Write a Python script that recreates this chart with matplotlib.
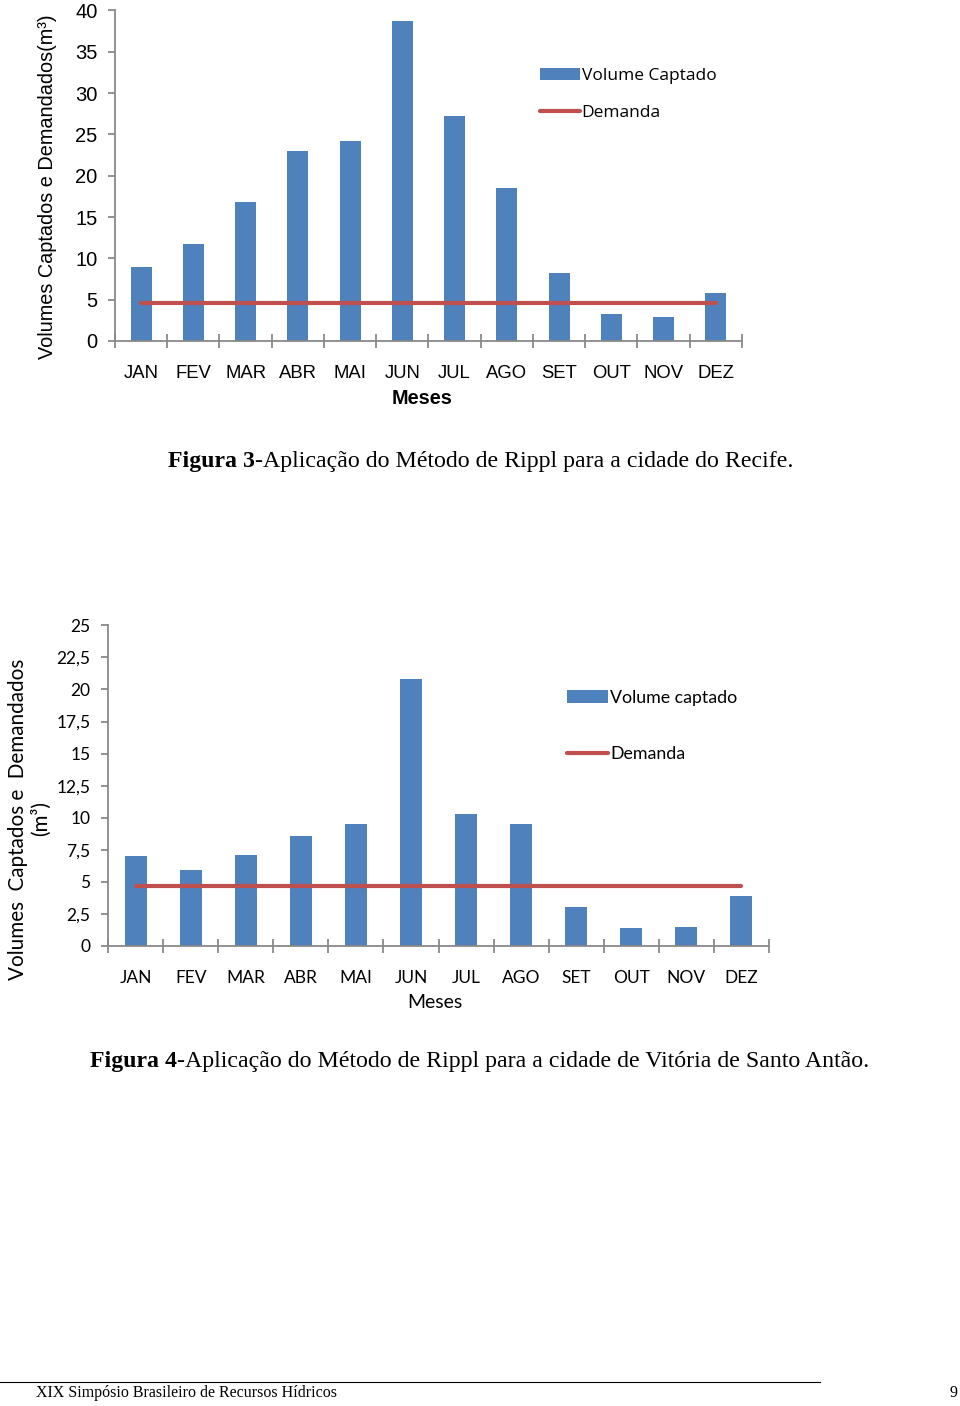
import numpy as np
import matplotlib
matplotlib.use('Agg')
import matplotlib.pyplot as plt
from matplotlib.lines import Line2D
from matplotlib.patches import Patch

W, H = 960, 1406
DPI = 100

meses = ['JAN', 'FEV', 'MAR', 'ABR', 'MAI', 'JUN', 'JUL', 'AGO', 'SET', 'OUT', 'NOV', 'DEZ']

# Figura 3 - Recife
recife_volume = [8.9, 11.7, 16.8, 23.0, 24.2, 38.7, 27.2, 18.5, 8.2, 3.3, 2.9, 5.8]
recife_demanda = [4.6] * 12
recife_yticks = [0, 5, 10, 15, 20, 25, 30, 35, 40]

# Figura 4 - Vitoria de Santo Antao
vitoria_volume = [7.0, 5.9, 7.1, 8.6, 9.5, 20.8, 10.3, 9.5, 3.05, 1.4, 1.5, 3.9]
vitoria_demanda = [4.7] * 12
vitoria_yticks = [0, 2.5, 5, 7.5, 10, 12.5, 15, 17.5, 20, 22.5, 25]
vitoria_yticklabels = ['0', '2,5', '5', '7,5', '10', '12,5', '15', '17,5', '20', '22,5', '25']

BLUE = '#4F81BD'
RED = '#C0504D'
GRAY = '#898989'


def rect(l, t, r, b):
    return [l / W, 1 - b / H, (r - l) / W, (b - t) / H]


def fx(x):
    return x / W


def fy(y):
    return 1 - y / H


def style_axes(ax, family, xsize, ysize, ylab_pad, xlab_pad):
    for s in ['top', 'right']:
        ax.spines[s].set_visible(False)
    for s in ['left', 'bottom']:
        ax.spines[s].set_color(GRAY)
        ax.spines[s].set_linewidth(1.3)
    ax.set_xlim(-0.5, 11.5)
    ax.set_xticks(range(12))
    ax.set_xticklabels(meses, family=family, fontsize=xsize)
    ax.set_xticks(np.arange(-0.5, 12, 1), minor=True)
    ax.tick_params(axis='x', which='major', length=0, pad=xlab_pad)
    ax.tick_params(axis='x', which='minor', direction='inout', length=10,
                   width=1.3, color=GRAY)
    ax.tick_params(axis='y', which='major', direction='out', length=5,
                   width=1.3, color=GRAY, pad=ylab_pad)
    for lab in ax.get_yticklabels():
        lab.set_family(family)
        lab.set_fontsize(ysize)


fig = plt.figure(figsize=(W / DPI, H / DPI), dpi=DPI)
fig.patch.set_facecolor('white')

# ---------- Figura 3 ----------
ax1 = fig.add_axes(rect(115, 10.5, 742, 341))
x = np.arange(12)
ax1.bar(x, recife_volume, width=0.4, color=BLUE, zorder=2)
ax1.plot(x, recife_demanda, color=RED, lw=3, solid_capstyle='round', zorder=3)
ax1.set_ylim(0, 40)
ax1.set_yticks(recife_yticks)
ax1.set_yticklabels([str(v) for v in recife_yticks])
style_axes(ax1, 'Liberation Sans', 13.3, 14.5, 7.5, 17)

fig.text(fx(48), fy(187), 'Volumes Captados e Demandados(m³)', rotation=90,
         ha='center', va='center', family='Liberation Sans', fontsize=14.3)
fig.text(fx(422), fy(399), 'Meses', ha='center', va='center',
         family='Liberation Sans', fontsize=14.3, fontweight='bold')

h1 = [Patch(facecolor=BLUE), Line2D([0], [0], color=RED, lw=3, solid_capstyle='round')]
ax1.legend(h1, ['Volume Captado', 'Demanda'], frameon=False,
           loc='upper left', bbox_to_anchor=(fx(531), fy(59)),
           bbox_transform=fig.transFigure, prop={'family': 'Open Sans', 'size': 12.5},
           handlelength=2.3, handletextpad=0.12, labelspacing=1.2, borderpad=0)

# ---------- Figura 4 ----------
ax2 = fig.add_axes(rect(108, 625.3, 769, 946))
ax2.bar(x, vitoria_volume, width=0.4, color=BLUE, zorder=2)
ax2.plot(x, vitoria_demanda, color=RED, lw=3, solid_capstyle='round', zorder=3)
ax2.set_ylim(0, 25)
ax2.set_yticks(vitoria_yticks)
ax2.set_yticklabels(vitoria_yticklabels)
style_axes(ax2, 'Lato', 12.5, 12.5, 7.5, 17)

fig.text(fx(18), fy(819), 'Volumes  Captados e  Demandados', rotation=90,
         ha='center', va='center', family='Lato', fontsize=14.9)
fig.text(fx(41), fy(819), '(m³)', rotation=90,
         ha='center', va='center', family='Lato', fontsize=14.9)
fig.text(fx(435), fy(1002), 'Meses', ha='center', va='center',
         family='Lato', fontsize=14)

h2 = [Patch(facecolor=BLUE), Line2D([0], [0], color=RED, lw=3, solid_capstyle='round')]
ax2.legend(h2, ['Volume captado', 'Demanda'], frameon=False,
           loc='upper left', bbox_to_anchor=(fx(558), fy(681)),
           bbox_transform=fig.transFigure, prop={'family': 'Lato', 'size': 12.8},
           handlelength=2.3, handletextpad=0.12, labelspacing=2.25, borderpad=0)

# ---------- legendas das figuras ----------
fig.canvas.draw()
renderer = fig.canvas.get_renderer()


def caption(xleft, ycen, bold, rest):
    t = fig.text(fx(xleft), fy(ycen), bold, ha='left', va='center',
                 family='Liberation Serif', fontsize=17.2, fontweight='bold')
    bb = t.get_window_extent(renderer)
    fig.text(bb.x1 / W, fy(ycen), rest, ha='left', va='center',
             family='Liberation Serif', fontsize=17.2)


caption(168, 461, 'Figura 3', '-Aplicação do Método de Rippl para a cidade do Recife.')
caption(90, 1062, 'Figura 4', '-Aplicação do Método de Rippl para a cidade de Vitória de Santo Antão.')

# rodape
fig.add_artist(Line2D([0, fx(820)], [fy(1382), fy(1382)], color='black', lw=0.8))
fig.text(fx(36), fy(1393), 'XIX Simpósio Brasileiro de Recursos Hídricos',
         ha='left', va='center', family='Liberation Serif', fontsize=11.5)
fig.text(fx(958), fy(1393), '9', ha='right', va='center',
         family='Liberation Serif', fontsize=11.5)

fig.savefig('out.png', dpi=DPI, facecolor='white')
